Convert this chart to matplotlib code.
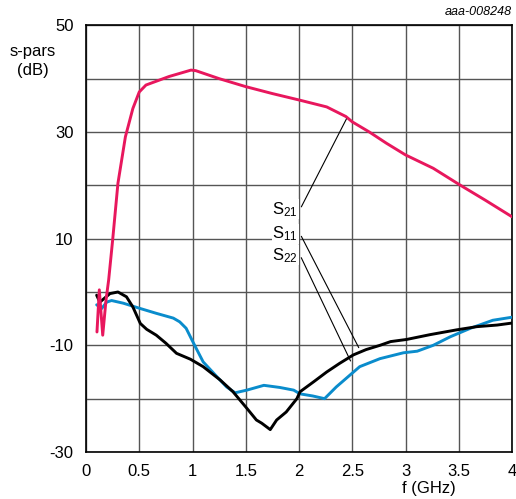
import numpy as np
import matplotlib
matplotlib.use('Agg')
import matplotlib.pyplot as plt

plt.rcParams['font.family'] = ['Liberation Sans', 'DejaVu Sans']
plt.rcParams['mathtext.fontset'] = 'custom'
plt.rcParams['mathtext.rm'] = 'Liberation Sans'
plt.rcParams['mathtext.it'] = 'Liberation Sans:italic'

# S21 (red)
f_s21 = [0.103, 0.125, 0.157, 0.188, 0.213, 0.25, 0.30, 0.37, 0.44, 0.50, 0.563, 0.78,
         0.986, 1.03, 1.25, 1.5, 1.75, 2.0, 2.26, 2.44, 2.5, 2.66, 2.82, 3.0, 3.26,
         3.5, 3.75, 4.0]
db_s21 = [-7.5, 0.4, -8.1, -1.5, 2.3, 9.7, 20.4, 29.1, 34.4, 37.5, 38.8, 40.4,
          41.6, 41.5, 40.0, 38.5, 37.2, 36.0, 34.7, 32.9, 31.9, 30.0, 27.9, 25.7, 23.2,
          20.2, 17.2, 14.1]

# S11 (black)
f_s11 = [0.10, 0.13, 0.225, 0.30, 0.38, 0.44, 0.51, 0.57, 0.66, 0.75, 0.85, 0.98,
         1.10, 1.26, 1.38, 1.51, 1.60, 1.65, 1.73, 1.79, 1.88, 1.98, 2.01, 2.14,
         2.26, 2.38, 2.51, 2.63, 2.76, 2.86, 3.01, 3.23, 3.48, 3.67, 3.86, 4.01]
db_s11 = [-0.6, -1.9, -0.3, 0.0, -0.9, -2.8, -5.9, -7.0, -8.1, -9.6, -11.5, -12.6,
          -14.0, -16.5, -18.7, -21.8, -24.0, -24.6, -25.8, -24.0, -22.5, -20.0, -18.7,
          -16.8, -15.0, -13.4, -11.8, -10.8, -10.0, -9.3, -8.9, -8.0, -7.1, -6.5, -6.2, -5.8]

# S22 (blue)
f_s22 = [0.10, 0.147, 0.194, 0.24, 0.35, 0.51, 0.66, 0.82, 0.88, 0.94, 1.02, 1.10,
         1.23, 1.32, 1.40, 1.51, 1.67, 1.82, 1.95, 2.01, 2.13, 2.24, 2.35, 2.57,
         2.76, 2.98, 3.11, 3.26, 3.42, 3.61, 3.82, 4.01]
db_s22 = [-2.4, -3.1, -1.9, -1.6, -2.1, -3.1, -4.0, -4.9, -5.6, -6.8, -10.0, -13.1,
          -15.9, -17.8, -18.9, -18.4, -17.5, -17.9, -18.4, -19.1, -19.5, -20.0, -17.8,
          -14.0, -12.5, -11.4, -11.1, -10.0, -8.4, -6.8, -5.3, -4.7]

labels = ['S$_{21}$', 'S$_{11}$', 'S$_{22}$']
label_pos = [(2.01, 15.5), (2.01, 10.9), (2.01, 6.9)]
arrow_tip = [(2.457, 32.9), (2.573, -10.9), (2.495, -13.4)]

fig = plt.figure(figsize=(5.16, 4.99), dpi=100)
ax = fig.add_axes([86 / 516, 1 - 452 / 499, 426 / 516, (452 - 25.3) / 499])

line_kw = dict(lw=2.1, solid_joinstyle='round', solid_capstyle='round')
ax.plot(f_s22, db_s22, color='#0a8ccc', zorder=3, **line_kw)
ax.plot(f_s11, db_s11, color='black', zorder=4, **line_kw)
ax.plot(f_s21, db_s21, color='#e8175d', zorder=5, **line_kw)

ax.set_xlim(0, 4)
ax.set_ylim(-30, 50)
ax.set_xticks(np.arange(0, 4.01, 0.5))
ax.set_xticklabels(['0', '0.5', '1', '1.5', '2', '2.5', '3', '3.5', '4'])
ax.set_yticks(np.arange(-30, 51, 10))
ax.set_yticklabels(['-30', '', '-10', '', '10', '', '30', '', '50'])
ax.tick_params(length=0, labelsize=12)
ax.tick_params(axis='x', pad=9)
ax.tick_params(axis='y', pad=9)
ax.grid(True, color='#555555', lw=1)
for s in ax.spines.values():
    s.set_linewidth(1.2)

for lab, (lx, ly), (tx, ty) in zip(labels, label_pos, arrow_tip):
    ax.annotate('', xy=(tx, ty), xytext=(lx, ly),
                arrowprops=dict(arrowstyle='-', color='black', lw=0.8), zorder=6)
    ax.text(lx - 0.02, ly, lab, ha='right', va='center', fontsize=12,
            zorder=6, bbox=dict(facecolor='white', edgecolor='none', pad=0.5))

fig.text(33 / 516, 1 - 61 / 499, 's-pars\n(dB)', ha='center', va='center',
         fontsize=12, linespacing=1.3)
fig.text(429 / 516, 1 - 489 / 499, 'f (GHz)', ha='center', va='center', fontsize=12)
fig.text(512 / 516, 1 - 12 / 499, 'aaa-008248', ha='right', va='center',
         fontsize=9, style='italic')

fig.savefig('out.png', dpi=100)
